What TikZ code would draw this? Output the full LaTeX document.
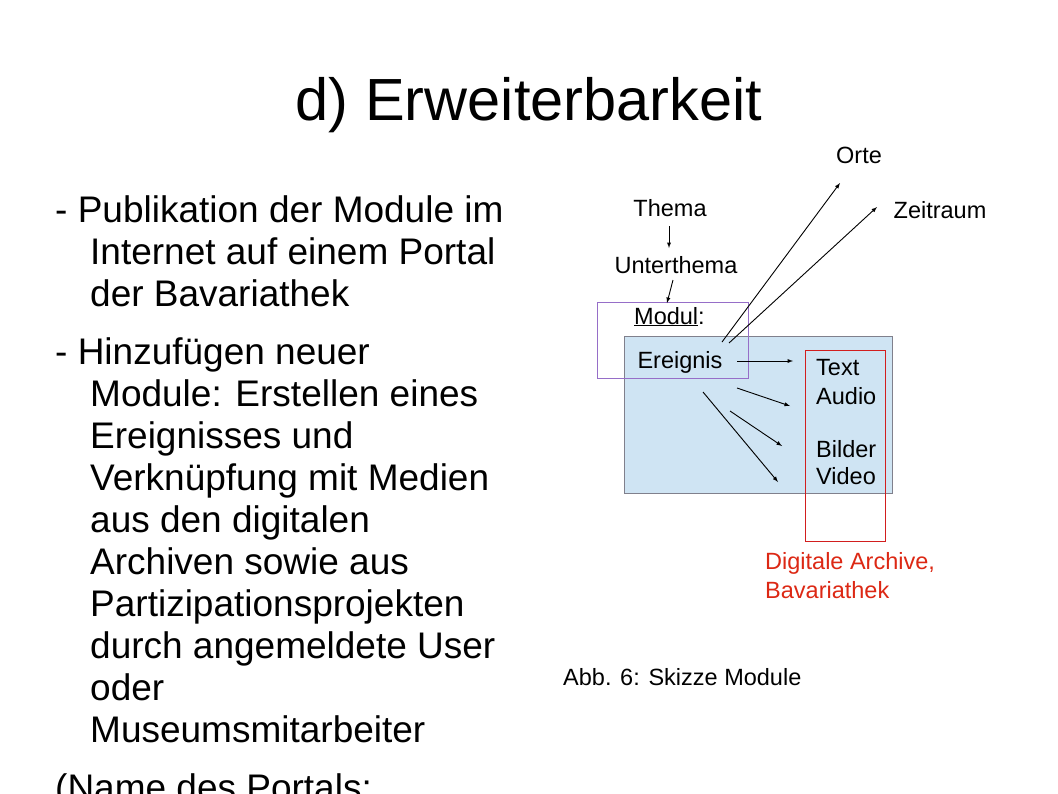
\documentclass[tikz,border=0pt]{standalone}
\usepackage{fontspec}
\setmainfont{Liberation Sans}
\begin{document}
\begin{tikzpicture}[x=1pt,y=-1pt,
  body/.style={anchor=base west,inner sep=0pt,font=\fontsize{37}{40}\selectfont},
  dia/.style={inner sep=0pt,font=\fontsize{23.5}{28}\selectfont},
  arr/.style={-latex,line width=0.9pt}]
\useasboundingbox (0,0) rectangle (1058,793);
\node[inner sep=0pt,anchor=base,font=\fontsize{59.5}{66}\selectfont] (title) at (529,120) {d) Erweiterbarkeit};
\node[body] (l1) at (55,222) {- Publikation der Module im};
\node[body] (l2) at (90,264) {Internet auf einem Portal};
\node[body] (l3) at (90,306) {der Bavariathek};
\node[body] (l4) at (55,364) {- Hinzufügen neuer};
\node[body] (l5) at (90,406) {Module: Erstellen eines};
\node[body] (l6) at (90,448) {Ereignisses und};
\node[body] (l7) at (90,490) {Verknüpfung mit Medien};
\node[body] (l8) at (90,532) {aus den digitalen};
\node[body] (l9) at (90,574) {Archiven sowie aus};
\node[body] (l10) at (90,616) {Partizipationsprojekten};
\node[body] (l11) at (90,658) {durch angemeldete User};
\node[body] (l12) at (90,700) {oder};
\node[body] (l13) at (90,742) {Museumsmitarbeiter};
\node[body] (l14) at (55,800) {(Name des Portals:};
% diagram
\fill[fill={rgb,255:red,207;green,228;blue,243},draw={rgb,255:red,128;green,128;blue,140}] (624,336) rectangle (892,493);
\draw[draw={rgb,255:red,150;green,110;blue,200}] (597,302) rectangle (748,378);
\draw[draw={rgb,255:red,210;green,30;blue,30}] (805,350) rectangle (885,541);
\node[dia] (orte) at (859,155) {Orte};
\node[dia] (thema) at (670,208) {Thema};
\node[dia] (zeit) at (940,210) {Zeitraum};
\node[dia] (unter) at (676,265) {Unterthema};
\node[dia,anchor=base west] (modul) at (634,324) {\underline{Modul}:};
\node[dia] (ereig) at (680,362) {Ereignis};
\node[dia,anchor=west] (text) at (816,368) {Text};
\node[dia,anchor=west] (audio) at (816,396) {Audio};
\node[dia,anchor=west] (bilder) at (816,449) {Bilder};
\node[dia,anchor=west] (video) at (816,476) {Video};
\node[dia,anchor=west,text={rgb,255:red,220;green,40;blue,20}] (da1) at (765,563) {Digitale Archive,};
\node[dia,anchor=west,text={rgb,255:red,220;green,40;blue,20}] (da2) at (765,590) {Bavariathek};
\node[dia,anchor=west] (abb) at (563,677) {Abb. 6: Skizze Module};
\coordinate (o1) at (722,342); \coordinate (o2) at (840,183);
\coordinate (z1) at (729,343); \coordinate (z2) at (877,207);
\draw[arr] (669,226) -- (669,248);
\draw[arr] (673,280) -- (667,303);
\draw[arr] (o1) -- (o2);
\draw[arr] (z1) -- (z2);
\draw[arr] (737,361) -- (793,361);
\draw[arr] (737,388) -- (790,406);
\draw[arr] (730,411) -- (782,446);
\draw[arr] (703,392) -- (778,482);
\end{tikzpicture}
\end{document}
